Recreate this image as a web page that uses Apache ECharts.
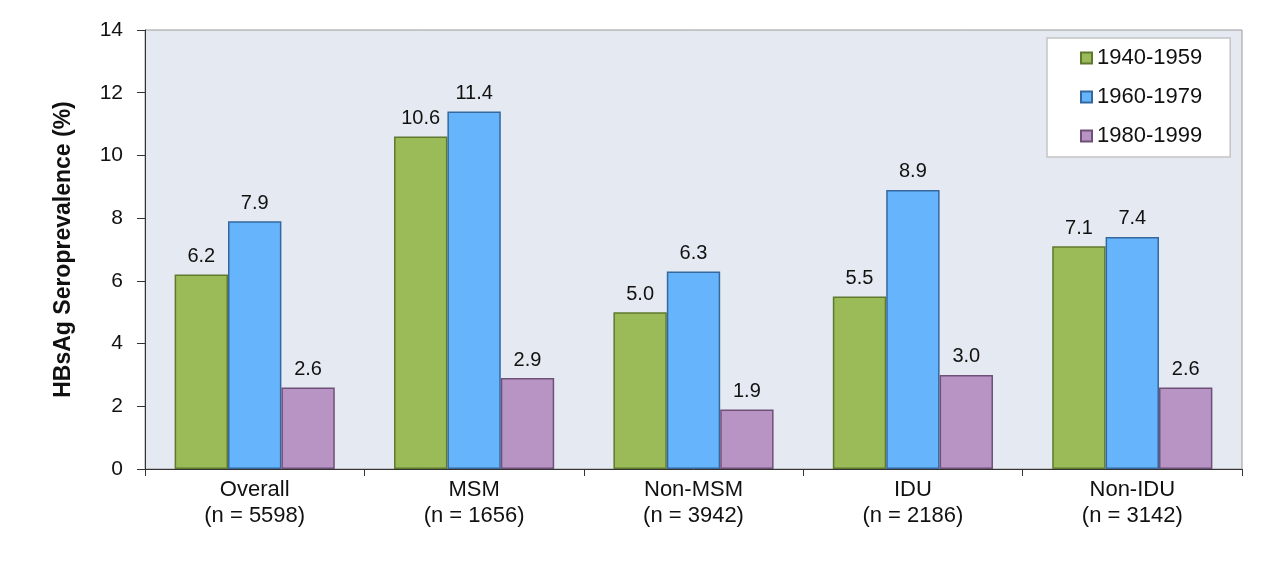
<!DOCTYPE html>
<html>
<head>
<meta charset="utf-8">
<script src="https://cdn.jsdelivr.net/npm/echarts@6/dist/echarts.min.js"></script>
<style>
  html, body { margin: 0; padding: 0; background: #fff; }
  #main { width: 1280px; height: 569px; }
</style>
</head>
<body>
<div id="main"></div>
<script>
var categories = ['Overall\n(n = 5598)', 'MSM\n(n = 1656)', 'Non-MSM\n(n = 3942)', 'IDU\n(n = 2186)', 'Non-IDU\n(n = 3142)']
var s1940 = [6.2, 10.6, 5.0, 5.5, 7.1]
var s1960 = [7.9, 11.4, 6.3, 8.9, 7.4]
var s1980 = [2.6, 2.9, 1.9, 3.0, 2.6]
var seriesNames = ['1940-1959', '1960-1979', '1980-1999']

var colors = ['#9bbb59', '#66b4fc', '#b894c4']
var borders = ['#5f7a2e', '#35689e', '#6f5079']

function makeBar(i, values) {
  return {
    name: seriesNames[i],
    type: 'bar',
    data: values,
    barGap: 0,
    barCategoryGap: '27%',
    itemStyle: {
      color: colors[i],
      borderColor: borders[i],
      borderWidth: 1.5
    },
    label: {
      show: true,
      position: 'top',
      distance: 8,
      color: '#111',
      fontSize: 20,
      formatter: function (p) { return p.value.toFixed(1) }
    }
  }
}

var myChart = echarts.init(document.getElementById('main'))
var option = {
  backgroundColor: '#ffffff',
  textStyle: { fontFamily: 'Liberation Sans, Arial, sans-serif' },
  grid: {
    left: 145,
    right: 38,
    top: 30,
    bottom: 100,
    show: true,
    backgroundColor: '#e5e9f1',
    borderColor: '#9a9a9a',
    borderWidth: 1
  },
  legend: {
    orient: 'vertical',
    left: 1047,
    top: 38,
    backgroundColor: '#ffffff',
    borderColor: '#c4c4c4',
    borderWidth: 1.5,
    borderRadius: 0,
    padding: [9, 28, 10, 33],
    itemGap: 17,
    itemWidth: 11,
    itemHeight: 11,
    icon: 'rect',
    data: seriesNames,
    textStyle: {
      fontSize: 22,
      color: '#111',
      fontFamily: 'Liberation Sans, Arial, sans-serif'
    }
  },
  xAxis: {
    type: 'category',
    data: categories,
    axisLine: { lineStyle: { color: '#333', width: 1 } },
    axisTick: { show: true, alignWithLabel: false, length: 7, lineStyle: { color: '#333' } },
    axisLabel: {
      color: '#111',
      fontSize: 22,
      lineHeight: 26,
      margin: 8
    }
  },
  yAxis: {
    type: 'value',
    min: 0,
    max: 14,
    interval: 2,
    name: 'HBsAg Seroprevalence (%)',
    nameLocation: 'middle',
    nameGap: 70,
    nameTextStyle: {
      fontSize: 23,
      fontWeight: 'bold',
      color: '#111'
    },
    axisLine: { show: true, lineStyle: { color: '#333', width: 1 } },
    axisTick: { show: true, inside: false, length: 8, lineStyle: { color: '#333' } },
    splitLine: { show: false },
    axisLabel: {
      color: '#111',
      fontSize: 21,
      margin: 22
    }
  },
  series: [
    makeBar(0, s1940),
    makeBar(1, s1960),
    makeBar(2, s1980)
  ]
}
myChart.setOption(option)
</script>
</body>
</html>
